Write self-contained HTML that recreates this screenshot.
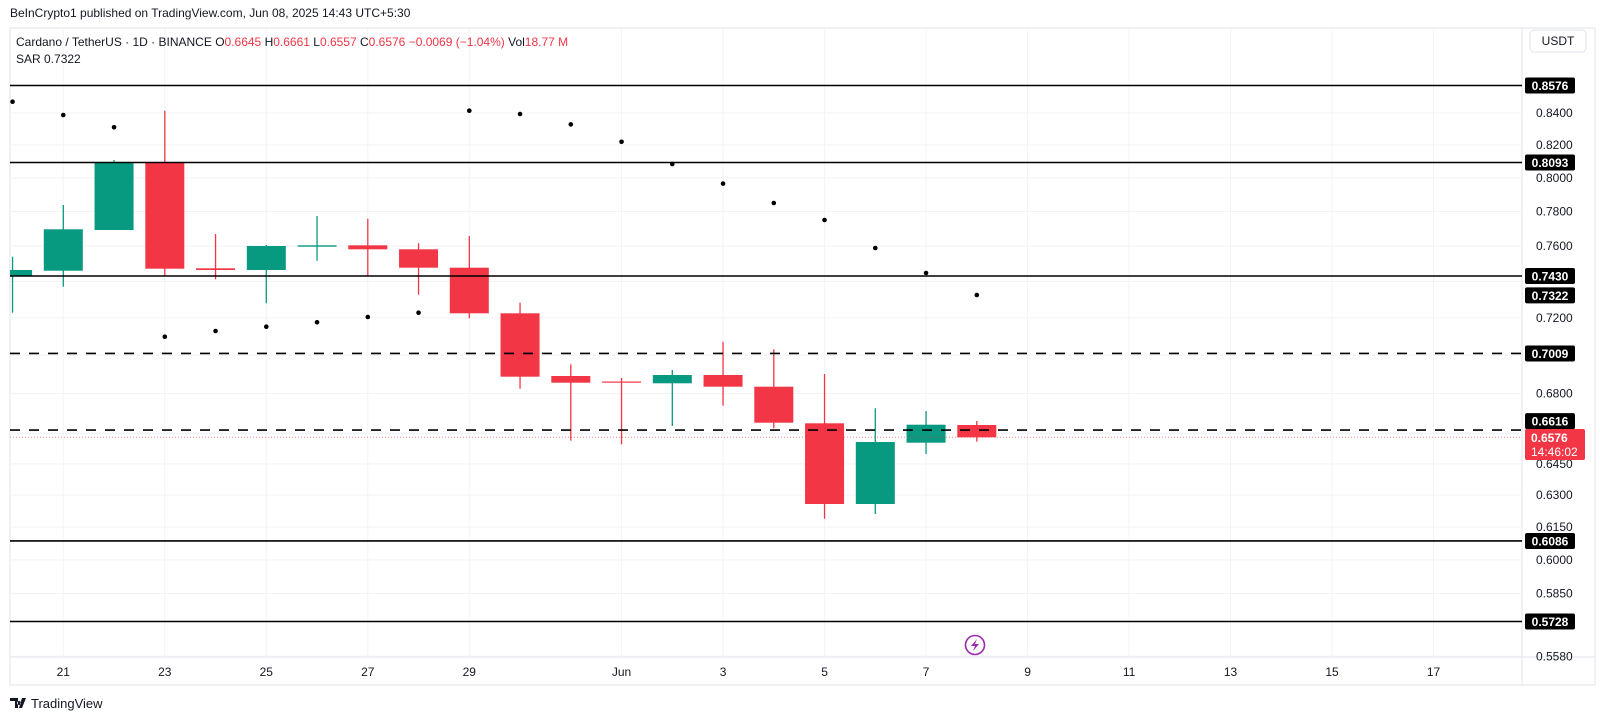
<!DOCTYPE html>
<html><head><meta charset="utf-8"><style>
html,body{margin:0;padding:0;background:#fff;width:1600px;height:720px;overflow:hidden}
svg{display:block;font-family:"Liberation Sans",sans-serif}
</style></head><body>
<svg id="s" width="1600" height="720" xmlns="http://www.w3.org/2000/svg"></svg>
<script>
const s=document.getElementById('s');let h='';
const L=10,R=1522,T=28,B=657;
const Y=p=>276+1328*(Math.log(0.7430)-Math.log(p));
const X=d=>63.3+(d-21)*50.75;
h+=`<rect x="${L}" y="${T}" width="${1595-L}" height="${685-T}" fill="none" stroke="#e0e3eb"/>`;
h+=`<line x1="${R}" y1="${T}" x2="${R}" y2="685" stroke="#e0e3eb"/>`;
h+=`<line x1="${L}" y1="${B}" x2="1595" y2="${B}" stroke="#e0e3eb"/>`;
const ticks=[0.84,0.82,0.80,0.78,0.76,0.74,0.72,0.70,0.68,0.66,0.645,0.63,0.615,0.60,0.585,0.558];
ticks.forEach(p=>{const y=Y(p);if(y>T&&y<B)h+=`<line x1="${L}" y1="${y}" x2="${R}" y2="${y}" stroke="#f2f3f5"/>`;});
const tl=[[21,'21'],[23,'23'],[25,'25'],[27,'27'],[29,'29'],[32,'Jun'],[34,'3'],[36,'5'],[38,'7'],[40,'9'],[42,'11'],[44,'13'],[46,'15'],[48,'17']];
tl.forEach(([d,t])=>{const x=X(d);h+=`<line x1="${x}" y1="${T}" x2="${x}" y2="${B}" stroke="#f2f3f5"/>`;
h+=`<text x="${x}" y="676" font-size="12" fill="#131722" text-anchor="middle">${t}</text>`;});
[0.84,0.82,0.80,0.78,0.76,0.72,0.68,0.645,0.63,0.615,0.60,0.585,0.558].forEach(p=>{const y=Y(p);
h+=`<text x="1536" y="${y+4}" font-size="12" fill="#131722">${p.toFixed(4)}</text>`;});
const G='#089981',Rd='#f23645';
const c=[[20,270,276,256.7,312.7,1],[21,229.3,270.7,205,286.7,1],[22,162.7,230,160,230,1],[23,162.7,268.7,110.7,276,0],
[24,268.3,270,234,279.3,0],[25,246,270,245,303.3,1],[26,245.3,246.7,216,260.7,1],[27,245.3,249.3,218.7,276,0],
[28,249.3,267.7,243.3,294.7,0],[29,267.7,313.3,236,318.3,0],[30,313.3,376.7,302.7,388.7,0],[31,376,382.7,364.3,440.7,0],
[32,381.5,382.5,378,444.3,0],[33,375,383.3,370,426,1],[34,375,386.7,341.7,405.7,0],[35,386.7,422.7,349.3,428.3,0],
[36,423.3,504,374,518.7,0],[37,442,504,408.3,514,1],[38,424.7,442.7,411,454,1],[39,425,437.3,421,441.7,0]];
h+=`<clipPath id="cp"><rect x="${L}" y="${T}" width="${R-L}" height="${B-T}"/></clipPath><g clip-path="url(#cp)">`;
c.forEach(([d,a,b,w1,w2,g])=>{const x=X(d),col=g?G:Rd;
h+=`<line x1="${x}" y1="${w1}" x2="${x}" y2="${w2}" stroke="${col}" stroke-width="1.3"/>`;
h+=`<rect x="${x-19.5}" y="${a}" width="39" height="${Math.max(b-a,1.2)}" fill="${col}"/>`;});
const sar=[[20,101.7],[21,115],[22,127.3],[23,336.7],[24,331],[25,326.7],[26,322.3],[27,317],[28,312.7],[29,110.7],[30,114],[31,124.4],[32,141.8],[33,164],[34,183.6],[35,203],[36,220],[37,248],[38,273],[39,295]];
sar.forEach(([d,y])=>h+=`<circle cx="${X(d)}" cy="${y}" r="2.3" fill="#000"/>`);
h+='</g>';
h+=`<line x1="${L}" y1="437.3" x2="${R}" y2="437.3" stroke="#f23645" stroke-width="1" stroke-dasharray="1 2" opacity="0.6"/>`;
[[0.8576,0,0],[0.8093,0,0],[0.7430,0,0],[0.7009,1,0],[0.6616,1,-9],[0.6086,0,0],[0.5728,0,0]].forEach(([p,dsh,off])=>{const y=Y(p),ly=y+off;
h+=`<line x1="${L}" y1="${y}" x2="${R}" y2="${y}" stroke="#000" stroke-width="1.6" ${dsh?'stroke-dasharray="10 9"':''}/>`;
h+=`<rect x="1525" y="${ly-8}" width="50" height="16" rx="2" fill="#000"/><text x="1550" y="${ly+4.5}" font-size="12" font-weight="bold" fill="#fff" text-anchor="middle">${p.toFixed(4)}</text>`;});
h+=`<rect x="1525" y="${295.4-8}" width="50" height="16" rx="2" fill="#000"/><text x="1550" y="299.9" font-size="12" font-weight="bold" fill="#fff" text-anchor="middle">0.7322</text>`;
h+=`<rect x="1525" y="429" width="60" height="31" rx="2" fill="#f23645"/><text x="1531" y="442" font-size="12" font-weight="bold" fill="#fff">0.6576</text><text x="1531" y="456" font-size="12" fill="#fff">14:46:02</text>`;
h+=`<rect x="1530" y="30" width="56" height="22" rx="4" fill="#fff" stroke="#e0e3eb"/><text x="1558" y="45" font-size="12" fill="#131722" text-anchor="middle">USDT</text>`;
h+=`<text x="10" y="17" font-size="12" fill="#131722">BeInCrypto1 published on TradingView.com, Jun 08, 2025 14:43 UTC+5:30</text>`;
h+=`<text x="16" y="46" font-size="12" fill="#131722">Cardano / TetherUS · 1D · BINANCE <tspan>O</tspan><tspan fill="#f23645">0.6645</tspan> H<tspan fill="#f23645">0.6661</tspan> L<tspan fill="#f23645">0.6557</tspan> C<tspan fill="#f23645">0.6576 −0.0069 (−1.04%)</tspan> Vol<tspan fill="#f23645">18.77 M</tspan></text>`;
h+=`<text x="16" y="63" font-size="12" fill="#131722">SAR  0.7322</text>`;
h+=`<circle cx="975" cy="645" r="9.5" fill="#fff" stroke="#9c27b0" stroke-width="1.6"/><path d="M977 639 L971 646 L975 646 L973 651 L979 644 L975 644 Z" fill="#9c27b0"/>`;
h+=`<path d="M10 698 h8 v10 h-3 v-7 h-5z M19 701 a2 2 0 1 0 0.1 0 M22 698 h4 l-4 10 h-3z" fill="#131722"/><text x="31" y="708" font-size="13" fill="#131722">TradingView</text>`;
s.innerHTML=h;
</script>
</body></html>
